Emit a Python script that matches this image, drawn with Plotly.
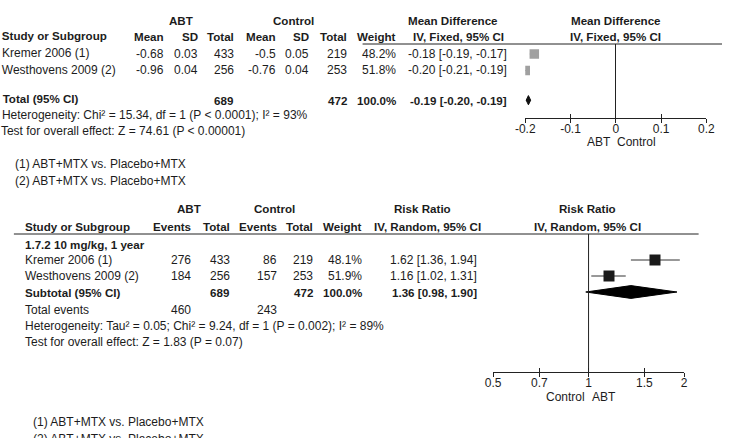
"""Forest plots: abatacept (ABT) vs control, mean difference and risk ratio panels."""

import plotly.graph_objects as go

W, H = 731, 438
FONT = "Liberation Sans, Arial, sans-serif"
INK = "#1c1c1c"

# --- top panel: mean difference, IV fixed ---
md_studies = ["Kremer 2006 (1)", "Westhovens 2009 (2)"]
md_abt_mean = ["-0.68", "-0.96"]
md_abt_sd = ["0.03", "0.04"]
md_abt_n = [433, 256]
md_ctl_mean = ["-0.5", "-0.76"]
md_ctl_sd = ["0.05", "0.04"]
md_ctl_n = [219, 253]
md_weight = [48.2, 51.8]
md_est = [-0.18, -0.20]
md_lo = [-0.19, -0.21]
md_hi = [-0.17, -0.19]
md_total_n = [689, 472]
md_total = [-0.193, -0.198, -0.188]  # est, lo, hi
md_ticks = [-0.2, -0.1, 0, 0.1, 0.2]

# --- bottom panel: risk ratio, IV random ---
rr_studies = ["Kremer 2006 (1)", "Westhovens 2009 (2)"]
rr_abt_events = [276, 184]
rr_abt_n = [433, 256]
rr_ctl_events = [86, 157]
rr_ctl_n = [219, 253]
rr_weight = [48.1, 51.9]
rr_est = [1.62, 1.16]
rr_lo = [1.36, 1.02]
rr_hi = [1.94, 1.31]
rr_sub_n = [689, 472]
rr_sub = [1.36, 0.98, 1.90]
rr_events_total = [460, 243]
rr_ticks = [0.5, 0.7, 1, 1.5, 2]

footnotes = ["(1) ABT+MTX vs. Placebo+MTX", "(2) ABT+MTX vs. Placebo+MTX"]

# Arial / Liberation Sans advance widths (1/1000 em), only needed for the
# left column of the top panel, which is cropped at the page edge
_REG = {" ": 278, "(": 333, ")": 333, ",": 278, "-": 333, ".": 278, ":": 278, ";": 278,
        "<": 584, "=": 584, "%": 889, "²": 333, "C": 722, "H": 722, "I": 278, "K": 667,
        "P": 667, "T": 611, "W": 944, "Z": 611, "a": 556, "c": 500, "d": 556, "e": 556,
        "f": 278, "g": 556, "h": 556, "i": 222, "l": 222, "m": 833, "n": 556, "o": 556,
        "r": 333, "s": 500, "t": 278, "v": 500, "y": 500}
_BOLD = {" ": 278, "(": 333, ")": 333, "%": 889, "C": 722, "I": 278, "S": 667, "T": 611,
         "a": 556, "b": 611, "d": 611, "g": 611, "l": 278, "o": 611, "p": 611, "r": 389,
         "t": 333, "u": 611, "y": 556}


def text_width(s, size, bold):
    table = _BOLD if bold else _REG
    return sum(556 if ch.isdigit() else table.get(ch, 556) for ch in s) * size / 1000


def px(x):
    return x / W


def py(y):
    return 1 - y / H


annots = []
edge = {"x": [], "y": [], "text": [], "size": []}


def text(x, y, s, anchor="left", bold=False, size=12):
    size = 11.6 if bold else size
    label = f"<b>{s}</b>" if bold else s
    if x < 0:
        # plotly keeps paper annotations on-screen, so cropped texts go into a
        # text trace, centred on where the string would sit
        edge["x"].append(x + text_width(s, size, bold) / 2)
        edge["y"].append(y)
        edge["text"].append(label)
        edge["size"].append(size)
        return
    annots.append(dict(
        x=px(x), y=py(y), xref="paper", yref="paper", text=label,
        xanchor=anchor, yanchor="middle", showarrow=False,
        font=dict(family=FONT, size=size, color=INK),
    ))


def ci(est, lo, hi):
    return f"{est:.2f} [{lo:.2f}, {hi:.2f}]"


# row layout (pixels)
TOP_ROW0, TOP_STEP = 54, 16.5
BOT_ROW0, BOT_STEP = 260, 16


def top_y(r):
    return TOP_ROW0 + TOP_STEP * r


def bot_y(r):
    return BOT_ROW0 + BOT_STEP * r


fig = go.Figure()

# ---------------- top panel ----------------
text(176, 21, "ABT", "center", True)
text(291, 21, "Control", "center", True)
text(455, 21, "Mean Difference", "center", True)
text(622, 21, "Mean Difference", "center", True)
text(-7, 37, "Study or Subgroup", bold=True)
for x, s in [(160, "Mean"), (195, "SD"), (232, "Total"), (275, "Mean"), (309, "SD"),
             (348, "Total"), (398, "Weight")]:
    text(x, 37, s, "right", True)
text(460, 37, "IV, Fixed, 95% CI", "center", True)
text(622, 37, "IV, Fixed, 95% CI", "center", True)

for i, name in enumerate(md_studies):
    y = top_y(i)
    text(-7, y, name)
    text(160, y, md_abt_mean[i], "right")
    text(195, y, md_abt_sd[i], "right")
    text(232, y, str(md_abt_n[i]), "right")
    text(275, y, md_ctl_mean[i], "right")
    text(309, y, md_ctl_sd[i], "right")
    text(348, y, str(md_ctl_n[i]), "right")
    text(398, y, f"{md_weight[i]:.1f}%", "right")
    text(512, y, ci(md_est[i], md_lo[i], md_hi[i]), "right")

TOP_TOTAL = 2.8
y = top_y(TOP_TOTAL)
text(-7, y, "Total (95% CI)", bold=True)
text(232, y, str(md_total_n[0]), "right", True)
text(348, y, str(md_total_n[1]), "right", True)
text(398, y, "100.0%", "right", True)
text(512, y, ci(*md_total), "right", True)
text(-7, 116, "Heterogeneity: Chi² = 15.34, df = 1 (P < 0.0001); I² = 93%")
text(-7, 132, "Test for overall effect: Z = 74.61 (P < 0.00001)")
text(3, 164, footnotes[0])
text(3, 181, footnotes[1])
text(605, 142, "ABT", "center")
text(643, 142, "Control", "center")

fig.add_trace(go.Scatter(
    x=md_est, y=[0, 1], xaxis="x", yaxis="y", mode="markers",
    marker=dict(symbol="square", size=9.5, color="#a0a0a0"),
    error_x=dict(type="data", array=[h - e for h, e in zip(md_hi, md_est)],
                 arrayminus=[e - l for e, l in zip(md_est, md_lo)],
                 width=0, thickness=1, color="#a0a0a0"),
    showlegend=False, hoverinfo="skip",
))
e, lo, hi = md_total
fig.add_trace(go.Scatter(
    x=[lo, e, hi, e, lo],
    y=[TOP_TOTAL, TOP_TOTAL - 0.28, TOP_TOTAL, TOP_TOTAL + 0.28, TOP_TOTAL],
    xaxis="x", yaxis="y", mode="lines", fill="toself", fillcolor="#111",
    line=dict(color="#111", width=1), showlegend=False, hoverinfo="skip",
))

# ---------------- bottom panel ----------------
text(184, 208, "ABT", "center", True)
text(272, 208, "Control", "center", True)
text(423, 208, "Risk Ratio", "center", True)
text(593, 208, "Risk Ratio", "center", True)
text(13, 226, "Study or Subgroup", bold=True)
for x, s in [(188, "Events"), (228, "Total"), (276, "Events"), (313, "Total"), (363, "Weight")]:
    text(x, 226, s, "right", True)
text(429, 226, "IV, Random, 95% CI", "center", True)
text(593, 226, "IV, Random, 95% CI", "center", True)
text(13, 244, "1.7.2 10 mg/kg, 1 year", bold=True)

for i, name in enumerate(rr_studies):
    y = bot_y(i)
    text(13, y, name)
    text(188, y, str(rr_abt_events[i]), "right")
    text(228, y, str(rr_abt_n[i]), "right")
    text(276, y, str(rr_ctl_events[i]), "right")
    text(313, y, str(rr_ctl_n[i]), "right")
    text(363, y, f"{rr_weight[i]:.1f}%", "right")
    text(482, y, ci(rr_est[i], rr_lo[i], rr_hi[i]), "right")

y = bot_y(2)
text(13, y, "Subtotal (95% CI)", bold=True)
text(228, y, str(rr_sub_n[0]), "right", True)
text(313, y, str(rr_sub_n[1]), "right", True)
text(363, y, "100.0%", "right", True)
text(482, y, ci(*rr_sub), "right", True)
text(13, 310, "Total events")
text(188, 310, str(rr_events_total[0]), "right")
text(276, 310, str(rr_events_total[1]), "right")
text(13, 326, "Heterogeneity: Tau² = 0.05; Chi² = 9.24, df = 1 (P = 0.002); I² = 89%")
text(13, 342, "Test for overall effect: Z = 1.83 (P = 0.07)")
text(22, 422, footnotes[0])
text(22, 439, footnotes[1])
text(570, 397, "Control", "center")
text(610, 397, "ABT", "center")

fig.add_trace(go.Scatter(
    x=rr_est, y=[0, 1], xaxis="x2", yaxis="y2", mode="markers",
    marker=dict(symbol="square", size=11, color="#1a1a1a"),
    error_x=dict(type="data", array=[h - e for h, e in zip(rr_hi, rr_est)],
                 arrayminus=[e - l for e, l in zip(rr_est, rr_lo)],
                 width=0, thickness=1, color="#333"),
    showlegend=False, hoverinfo="skip",
))
e, lo, hi = rr_sub
fig.add_trace(go.Scatter(
    x=[lo, e, hi, e, lo], y=[2, 1.6, 2, 2.4, 2],
    xaxis="x2", yaxis="y2", mode="lines", fill="toself", fillcolor="#000",
    line=dict(color="#000", width=1), showlegend=False, hoverinfo="skip",
))

# cropped left-column texts on a full-page pixel axis
fig.add_trace(go.Scatter(
    x=edge["x"], y=edge["y"], text=edge["text"], xaxis="x5", yaxis="y5", mode="text",
    textposition="middle center", cliponaxis=False,
    textfont=dict(family=FONT, size=edge["size"], color=INK),
    showlegend=False, hoverinfo="skip",
))

# ---------------- axes ----------------
# labelled axes carry the upward ticks (keeps labels close to the line),
# overlay axes add the downward half so ticks cross the axis line
tick_font = dict(family=FONT, size=12, color=INK)
top_dom = [px(529), px(715)]
bot_dom = [px(496), px(692)]
common = dict(showgrid=False, showline=True, linecolor="#222", linewidth=1,
              ticks="inside", ticklen=4, tickcolor="#222", tickfont=tick_font)
overlay = dict(ticks="outside", ticklen=4, tickcolor="#222", showticklabels=False,
               showgrid=False, zeroline=False, showline=False)

fig.update_layout(
    width=W, height=H, margin=dict(l=0, r=0, t=0, b=0),
    paper_bgcolor="white", plot_bgcolor="rgba(0,0,0,0)",
    xaxis=dict(domain=top_dom, range=[-0.2, 0.2], tickvals=md_ticks,
               ticktext=["-0.2", "-0.1", "0", "0.1", "0.2"], anchor="y",
               zeroline=True, zerolinecolor="#222", zerolinewidth=1, **common),
    xaxis3=dict(overlaying="x", range=[-0.2, 0.2], tickvals=md_ticks, anchor="y", **overlay),
    yaxis=dict(domain=[py(118), py(44)],
               range=[(118 - TOP_ROW0) / TOP_STEP, (44 - TOP_ROW0) / TOP_STEP], visible=False),
    xaxis2=dict(domain=bot_dom, type="log", range=[-0.30103, 0.30103], tickvals=rr_ticks,
                ticktext=["0.5", "0.7", "1", "1.5", "2"], anchor="y2", zeroline=False, **common),
    xaxis4=dict(overlaying="x2", type="log", range=[-0.30103, 0.30103], tickvals=rr_ticks,
                anchor="y2", **overlay),
    yaxis2=dict(domain=[py(372), py(234)],
                range=[(372 - BOT_ROW0) / BOT_STEP, (234 - BOT_ROW0) / BOT_STEP], visible=False),
    xaxis5=dict(domain=[0, 1], range=[0, W], visible=False, anchor="y5"),
    yaxis5=dict(domain=[0, 1], range=[H, 0], visible=False, anchor="x5"),
    annotations=annots,
    shapes=[
        dict(type="line", xref="paper", yref="paper", x0=px(362), x1=px(731),
             y0=py(44), y1=py(44), line=dict(color="#222", width=1)),
        dict(type="line", xref="paper", yref="paper", x0=px(4), x1=px(707),
             y0=py(234), y1=py(234), line=dict(color="#222", width=1)),
        dict(type="line", xref="x2", yref="y2 domain", x0=1, x1=1, y0=0, y1=1,
             line=dict(color="#222", width=1)),
    ],
)
# invisible traces so the overlay tick axes get drawn
fig.add_trace(go.Scatter(x=[0], y=[0], xaxis="x3", yaxis="y", mode="markers",
                         marker=dict(opacity=0), showlegend=False, hoverinfo="skip"))
fig.add_trace(go.Scatter(x=[1], y=[0], xaxis="x4", yaxis="y2", mode="markers",
                         marker=dict(opacity=0), showlegend=False, hoverinfo="skip"))

fig.write_html("out.html", config={"displayModeBar": False},
               post_script="document.body.style.margin = '0';")
